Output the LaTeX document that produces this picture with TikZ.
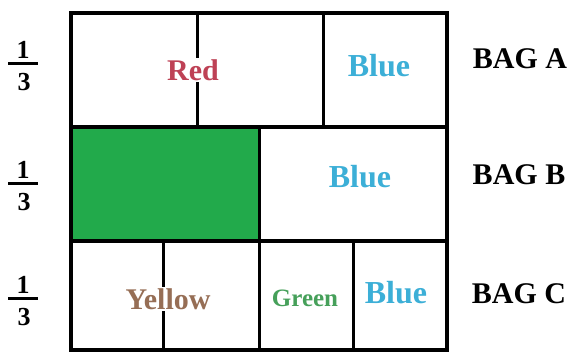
\documentclass[tikz,border=0pt]{standalone}
\usepackage{fontspec}
\setmainfont{Liberation Serif}
\definecolor{redtxt}{RGB}{190,65,85}
\definecolor{bluetxt}{RGB}{60,175,215}
\definecolor{yeltxt}{RGB}{150,110,85}
\definecolor{grntxt}{RGB}{70,160,90}
\definecolor{grnfill}{RGB}{34,170,75}
\begin{document}
\begin{tikzpicture}[x=1pt,y=-1pt,
  lbl/.style={font=\fontsize{30}{30}\selectfont\bfseries, inner sep=0pt},
  bluelbl/.style={lbl, text=bluetxt, font=\fontsize{32}{32}\selectfont\bfseries},
  bag/.style={font=\fontsize{30}{30}\selectfont\bfseries, inner sep=0pt},
  dig/.style={font=\fontsize{26}{26}\selectfont\bfseries, inner sep=0pt},
  outer/.style={line width=4pt},
  inner/.style={line width=3pt}]
\useasboundingbox[fill=white] (0,0) rectangle (574,354);
% green fill
\fill[grnfill] (71,127) rectangle (259,241);
% horizontal dividers
\draw[outer] (71,127) -- (447,127);
\draw[outer] (71,241) -- (447,241);
% row A verticals
\draw[inner] (197,13) -- (197,127);
\draw[inner] (323,13) -- (323,127);
% row B vertical
\draw[inner] (259,127) -- (259,241);
% row C verticals
\draw[inner] (163,241) -- (163,350);
\draw[inner] (259,241) -- (259,350);
\draw[inner] (353,241) -- (353,350);
% outer frame
\draw[outer] (71,13) rectangle (447,350);
% labels
\node[lbl, text=redtxt, fill=white, inner sep=1pt] (red) at (193,70) {Red};
\node[bluelbl] (blueA) at (379,66) {Blue};
\node[bluelbl] (blueB) at (360,177) {Blue};
\node[lbl, text=yeltxt, fill=white, inner sep=1pt] (yellow) at (168,299) {Yellow};
\node[lbl, text=grntxt, font=\fontsize{25}{25}\selectfont\bfseries] (green) at (305,298) {Green};
\node[bluelbl] (blueC) at (396,293) {Blue};
\node[bag] (bagA) at (520,59) {BAG A};
\node[bag] (bagB) at (519,175) {BAG B};
\node[bag] (bagC) at (519,294) {BAG C};
% fractions
\foreach \n/\y in {a/63,b/183,c/298}{
  \node[dig] (one\n) at (23,\y-13) {1};
  \node[dig] (three\n) at (24,\y+19) {3};
  \coordinate (bl\n) at (8,\y);
  \coordinate (br\n) at (38,\y);
  \draw[line width=3pt] (bl\n) -- (br\n);
}
\end{tikzpicture}
\end{document}
